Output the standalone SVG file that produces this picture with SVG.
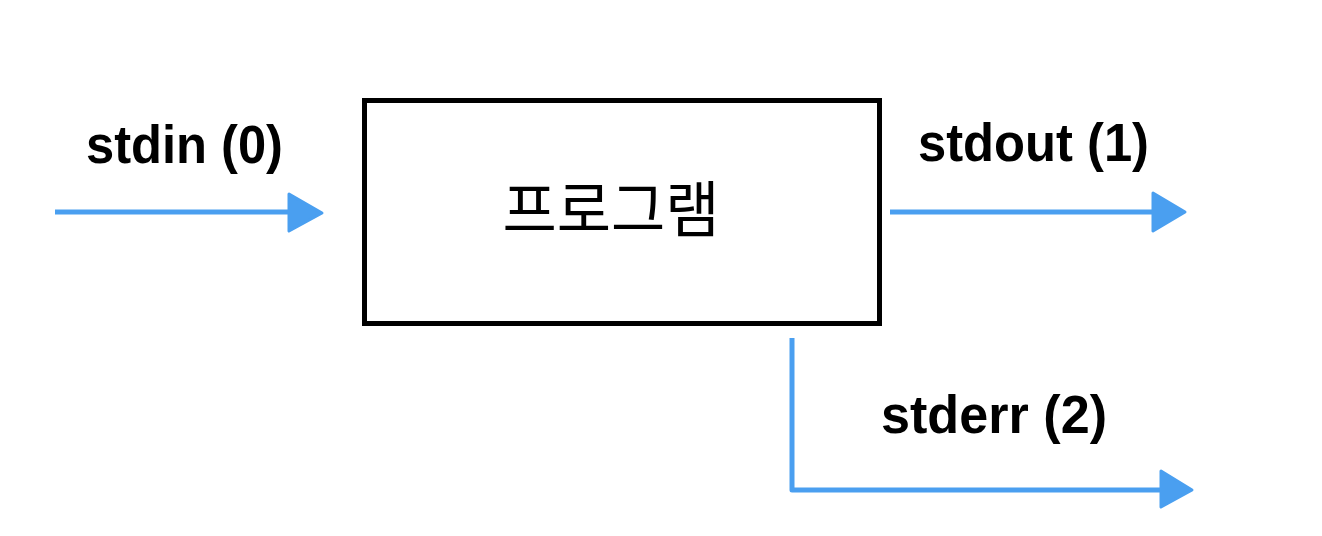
<svg xmlns="http://www.w3.org/2000/svg" width="1322" height="536" viewBox="0 0 1322 536">
<style>
.lbl{font-family:"Liberation Sans",Arial,sans-serif;font-weight:bold;font-size:53px;fill:#000}
.kr{font-family:"Noto Sans CJK KR","Noto Sans",sans-serif;font-size:61px;font-weight:400;fill:#000}
.wire{fill:none;stroke:#4A9FF0;stroke-width:5;stroke-linejoin:round}
.head{fill:#4A9FF0;stroke:#4A9FF0;stroke-width:3;stroke-linejoin:round}
</style>
<rect width="1322" height="536" fill="#fff"/>
<g id="program">
<rect x="364.5" y="100.5" width="515" height="223" fill="#fff" stroke="#000" stroke-width="5"/>
<text class="kr" x="611" y="232" text-anchor="middle" textLength="217" lengthAdjust="spacingAndGlyphs">프로그램</text>
</g>
<g id="stdin-label"><text class="lbl" x="86" y="163" textLength="197" lengthAdjust="spacingAndGlyphs">stdin (0)</text></g>
<g id="stdout-label"><text class="lbl" x="918" y="161" textLength="231" lengthAdjust="spacingAndGlyphs">stdout (1)</text></g>
<g id="stderr-label"><text class="lbl" x="881" y="433" textLength="226" lengthAdjust="spacingAndGlyphs">stderr (2)</text></g>
<g id="connectors">
<path class="wire" d="M55 212 L292 212"/>
<polygon class="head" points="289,194 322,213 289,231"/>
<path class="wire" d="M890 212 L1156 212"/>
<polygon class="head" points="1153,193 1185,212 1153,231"/>
<path class="wire" d="M792 338 L792 490 L1164 490"/>
<polygon class="head" points="1161,471 1192,490 1161,507"/>
</g>
</svg>
